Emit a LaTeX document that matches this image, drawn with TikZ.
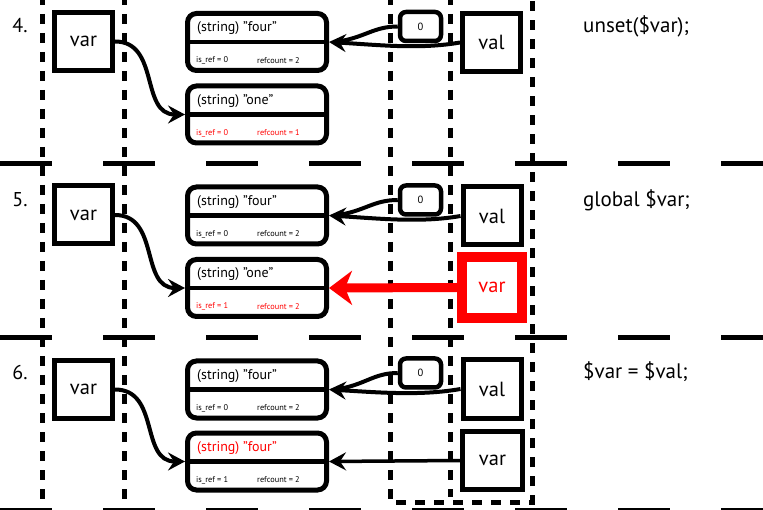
\documentclass[tikz,border=0pt]{standalone}
\usepackage{fontspec}
\setmainfont{PT Sans}
\usetikzlibrary{arrows.meta}
\tikzset{
  vd/.style={line width=5pt,dash pattern=on 10pt off 9pt,dash phase=5pt},
  hd/.style={line width=5pt,dash pattern=on 52pt off 51pt},
  sqbox/.style={draw,line width=5pt,fill=white,minimum width=58pt,minimum height=58pt,inner sep=0pt,font=\fontsize{20.5}{24}\selectfont},
  strbox/.style={draw,line width=5pt,fill=white,rounded corners=9pt,minimum width=139pt,minimum height=57pt,inner sep=0pt},
  zbox/.style={draw,line width=4.5pt,fill=white,rounded corners=6pt,minimum width=41pt,minimum height=29pt,inner sep=0pt,font=\fontsize{10.5}{12}\selectfont},
  ztitle/.style={anchor=west,inner sep=0pt,font=\fontsize{14}{16}\selectfont},
  zsmall/.style={anchor=west,inner sep=0pt,font=\fontsize{8.3}{9}\selectfont},
  codetxt/.style={anchor=west,inner sep=0pt,font=\fontsize{21}{24}\selectfont},
  numtxt/.style={inner sep=0pt,font=\fontsize{20}{22}\selectfont},
  conn/.style={line width=4pt,-{Stealth[length=17pt,width=18pt,inset=6pt]}},
  plainconn/.style={line width=4pt},
}
\newcommand\zvbox[7]{%
  \node[strbox] (#1) at (257,#2) {};
  \draw[line width=4.5pt] (#1.west) -- (#1.east);
  \node[ztitle,text=#4] (#1t) at (197,#2-13.5) {#3};
  \node[zsmall,text=#7] (#1r) at (196,#2+18.5) {#5};
  \node[zsmall,text=#7] (#1c) at (257,#2+18.5) {#6};
}
\begin{document}
\begin{tikzpicture}[x=1pt,y=-1pt]
\useasboundingbox (0,0) rectangle (763,510);
\fill[white] (0,0) rectangle (763,510);
\clip (0,0) rectangle (763,510);

% dashed grid
\draw[vd] (42,0) -- (42,510);
\draw[vd] (124,0) -- (124,510);
\draw[vd] (390,0) -- (390,502) -- (532,502) -- (532,0);
\draw[vd] (450,0) -- (450,497);
\draw[hd] (0,164) -- (763,164);
\draw[hd] (0,338) -- (763,338);
\draw[hd] (0,510) -- (763,510);

% section 4
\node[numtxt] (n4) at (20,26) {4.};
\node[sqbox] (var4) at (83.5,41.5) {var};
\zvbox{s4a}{42}{(string) "four"}{black}{is\_ref = 0}{refcount = 2}{black}
\zvbox{s4b}{114.5}{(string) "one"}{black}{is\_ref = 0}{refcount = 1}{red}
\node[zbox] (z4) at (420.5,26.5) {0};
\node[sqbox] (val4) at (491.5,42.5) {val};
\node[codetxt] (c4) at (583,26) {unset(\$var);};
\draw[conn] (var4.east) .. controls +(45,0) and +(-45,0) .. (s4b.west);
\draw[plainconn] (z4.west) .. controls +(-25,0) and +(30,-4) .. ([xshift=6pt]s4a.east);
\draw[conn] (val4.west) .. controls +(-40,7) and +(50,3) .. (s4a.east);

% section 5
\node[numtxt] (n5) at (20,200) {5.};
\node[sqbox] (var5) at (83.5,215) {var};
\zvbox{s5a}{215.5}{(string) "four"}{black}{is\_ref = 0}{refcount = 2}{black}
\zvbox{s5b}{288}{(string) "one"}{black}{is\_ref = 1}{refcount = 2}{red}
\node[zbox] (z5) at (420.5,200) {0};
\node[sqbox] (val5) at (492,216) {val};
\node[sqbox,draw=red,line width=10pt,minimum height=61pt,minimum width=60pt,text=red] (rv5) at (492,287.5) {var};
\node[codetxt] (c5) at (583,200) {global \$var;};
\draw[conn] (var5.east) .. controls +(45,0) and +(-45,0) .. (s5b.west);
\draw[plainconn] (z5.west) .. controls +(-25,0) and +(30,-4) .. ([xshift=6pt]s5a.east);
\draw[conn] (val5.west) .. controls +(-40,7) and +(50,3) .. (s5a.east);
\draw[red,line width=9pt,-{Stealth[length=23pt,width=34pt,inset=7pt]}] (rv5.west) -- (s5b.east);

% section 6
\node[numtxt] (n6) at (20,373) {6.};
\node[sqbox] (var6) at (83.5,389.5) {var};
\zvbox{s6a}{389.5}{(string) "four"}{black}{is\_ref = 0}{refcount = 2}{black}
\zvbox{s6b}{461.5}{(string) "four"}{red}{is\_ref = 1}{refcount = 2}{black}
\node[zbox] (z6) at (420.5,373) {0};
\node[sqbox] (val6) at (492,389) {val};
\node[sqbox,minimum width=60pt] (var6b) at (492.5,460.5) {var};
\node[codetxt] (c6) at (583,372) {\$var = \$val;};
\draw[conn] (var6.east) .. controls +(45,0) and +(-45,0) .. (s6b.west);
\draw[plainconn] (z6.west) .. controls +(-25,0) and +(30,-4) .. ([xshift=6pt]s6a.east);
\draw[conn] (val6.west) .. controls +(-40,7) and +(50,3) .. (s6a.east);
\draw[line width=3.5pt,-{Stealth[length=17pt,width=18pt,inset=6pt]}] (var6b.west) -- (s6b.east);
\end{tikzpicture}
\end{document}
